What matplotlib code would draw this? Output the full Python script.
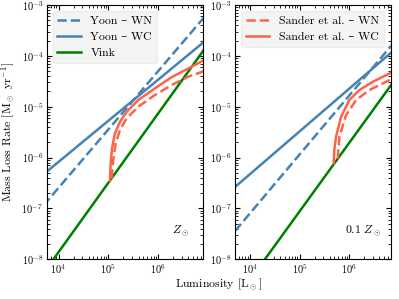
import numpy as np
import matplotlib
matplotlib.use("Agg")
import matplotlib.pyplot as plt

plt.rcParams['font.family'] = ['cmr10', 'DejaVu Serif']
plt.rcParams['mathtext.fontset'] = 'cm'
plt.rcParams['axes.formatter.use_mathtext'] = True
plt.rcParams['axes.unicode_minus'] = False

# ---- data (log10 L, log10 Mdot) ----
# Solar metallicity panel
yoon_wn_logL_z1 = [3.7, 7.0]
yoon_wn_logM_z1 = [-6.94, -3.146]
yoon_wc_logL_z1 = [3.7, 7.0]
yoon_wc_logM_z1 = [-6.328, -3.655]
vink_logL_z1 = [3.7, 7.0]
vink_logM_z1 = [-8.27, -3.76]
sander_wn_logL_z1 = [5.064, 5.096, 5.144, 5.23, 5.364, 5.596, 5.93, 6.264, 6.596, 6.92]
sander_wn_logM_z1 = [-6.41, -6.05, -5.72, -5.46, -5.23, -5.00, -4.77, -4.575, -4.41, -4.30]
sander_wc_logL_z1 = [5.03, 5.044, 5.076, 5.13, 5.23, 5.364, 5.596, 5.93, 6.264, 6.596, 6.92]
sander_wc_logM_z1 = [-6.46, -6.116, -5.79, -5.526, -5.297, -5.10, -4.87, -4.64, -4.42, -4.25, -4.08]

# 0.1 solar metallicity panel
yoon_wn_logL_z01 = [3.7, 7.0]
yoon_wn_logM_z01 = [-7.444, -3.616]
yoon_wc_logL_z01 = [3.7, 7.0]
yoon_wc_logM_z01 = [-6.578, -3.80]
vink_logL_z01 = [3.7, 7.0]
vink_logM_z01 = [-8.81, -4.355]
sander_wn_logL_z01 = [5.765, 5.797, 5.932, 6.133, 6.40, 6.67, 6.86]
sander_wn_logM_z01 = [-6.02, -5.593, -5.165, -4.87, -4.673, -4.541, -4.45]
sander_wc_logL_z01 = [5.684, 5.696, 5.73, 5.831, 5.998, 6.199, 6.469, 6.86]
sander_wc_logM_z01 = [-6.11, -5.854, -5.593, -5.199, -4.87, -4.673, -4.51, -4.32]

panel_labels = [r'$Z_\odot$', r'$0.1\ Z_\odot$']
xlims = [(5.8e3, 7.83e6), (5.0e3, 6.76e6)]
ylim = (1e-8, 1e-3)

c_yoon = '#4682b4'
c_sander = '#ff6347'
c_vink = '#008000'
lw = 1.8
fs = 8.5
tfs = 7.4

W, H = 399, 299
fig = plt.figure(figsize=(W / 100, H / 100), dpi=100)
ax1 = fig.add_axes([46.7 / W, 39.7 / H, 156.3 / W, 254.3 / H])
ax2 = fig.add_axes([235.0 / W, 39.7 / H, 155.7 / W, 254.3 / H])

p = lambda v: 10 ** np.asarray(v)

datasets = [
    (yoon_wn_logL_z1, yoon_wn_logM_z1, yoon_wc_logL_z1, yoon_wc_logM_z1,
     vink_logL_z1, vink_logM_z1, sander_wn_logL_z1, sander_wn_logM_z1,
     sander_wc_logL_z1, sander_wc_logM_z1),
    (yoon_wn_logL_z01, yoon_wn_logM_z01, yoon_wc_logL_z01, yoon_wc_logM_z01,
     vink_logL_z01, vink_logM_z01, sander_wn_logL_z01, sander_wn_logM_z01,
     sander_wc_logL_z01, sander_wc_logM_z01),
]

for i, (ax, d) in enumerate(zip([ax1, ax2], datasets)):
    (wnL, wnM, wcL, wcM, vL, vM, swnL, swnM, swcL, swcM) = d
    h1, = ax.plot(p(wnL), p(wnM), ls='--', color=c_yoon, lw=lw, label='Yoon – WN')
    h2, = ax.plot(p(wcL), p(wcM), ls='-', color=c_yoon, lw=lw, label='Yoon – WC')
    h3, = ax.plot(p(vL), p(vM), ls='-', color=c_vink, lw=lw, label='Vink')
    h4, = ax.plot(p(swnL), p(swnM), ls='--', color=c_sander, lw=lw, label='Sander et al. – WN')
    h5, = ax.plot(p(swcL), p(swcM), ls='-', color=c_sander, lw=lw, label='Sander et al. – WC')
    ax.set_xscale('log')
    ax.set_yscale('log')
    ax.set_xlim(*xlims[i])
    ax.set_ylim(*ylim)
    ax.tick_params(which='both', direction='in', top=True, right=True, labelsize=tfs)
    ax.tick_params(axis='y', which='both', pad=2.5)
    ax.tick_params(axis='x', which='both', pad=2.2)
    ax.text(0.86 if i == 0 else 0.82, 0.111, panel_labels[i], transform=ax.transAxes,
            ha='center', va='center', fontsize=fs)
    if i == 0:
        leg = ax.legend(handles=[h1, h2, h3], loc='upper left', fontsize=fs,
                        facecolor='#f4f4f4', edgecolor='#ececec', framealpha=1)
    else:
        leg = ax.legend(handles=[h4, h5], loc='upper left', fontsize=fs,
                        facecolor='#f4f4f4', edgecolor='#ececec', framealpha=1)

ax1.set_ylabel(r'Mass Loss Rate [M$_\odot$ yr$^{-1}$]', fontsize=fs)
ax1.yaxis.set_label_coords(-(46.7 - 17) / 156.3, 0.5)
fig.text(218.7 / W, 1 - 284 / H, r'Luminosity [L$_\odot$]', ha='center', va='center', fontsize=fs)

fig.savefig('out.png', dpi=100)
